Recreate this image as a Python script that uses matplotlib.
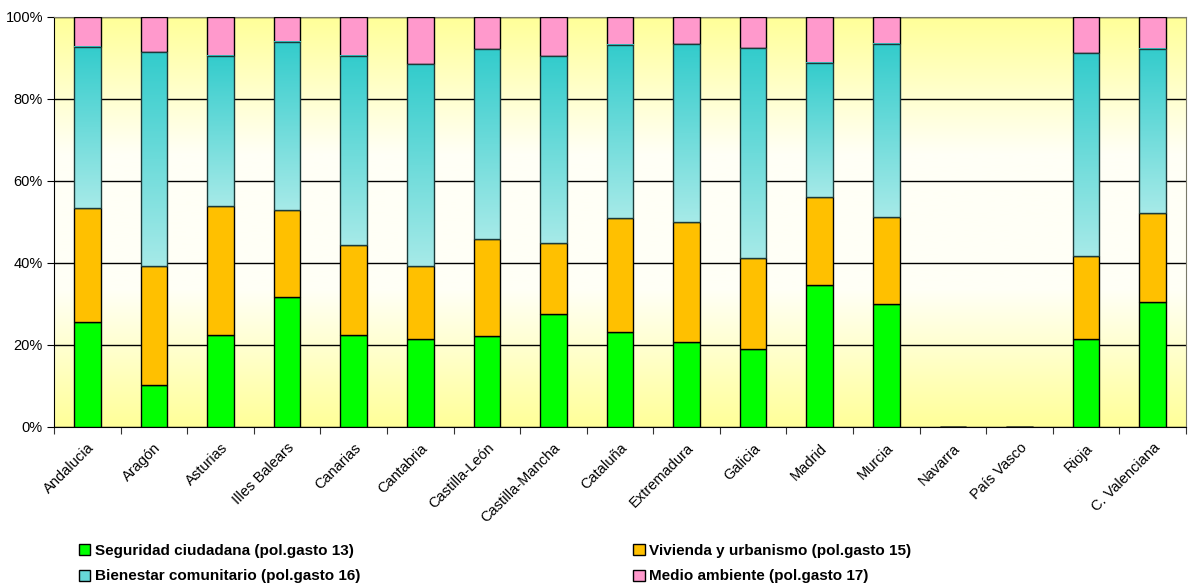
import matplotlib
matplotlib.use('Agg')
import matplotlib.pyplot as plt
import numpy as np
from matplotlib.colors import LinearSegmentedColormap
from matplotlib.ticker import PercentFormatter, FixedLocator
from matplotlib.patches import Patch

plt.rcParams['font.family'] = ['Liberation Sans', 'DejaVu Sans']

regiones = ['Andalucia', 'Aragón', 'Asturias', 'Illes Balears', 'Canarias', 'Cantabria',
            'Castilla-León', 'Castilla-Mancha', 'Cataluña', 'Extremadura', 'Galicia',
            'Madrid', 'Murcia', 'Navarra', 'País Vasco', 'Rioja', 'C. Valenciana']

# % sobre el total de cada comunidad
seguridad = [25.7, 10.2, 22.4, 31.8, 22.5, 21.4, 22.2, 27.5, 23.1, 20.8, 19.1, 34.6, 30.0, 0, 0, 21.4, 30.6]
vivienda = [27.7, 29.1, 31.5, 21.1, 21.9, 17.9, 23.7, 17.4, 27.8, 29.3, 22.2, 21.6, 21.2, 0, 0, 20.3, 21.5]
bienestar = [39.3, 52.1, 36.6, 41.1, 46.1, 49.2, 46.3, 45.6, 42.3, 43.3, 51.2, 32.7, 42.2, 0, 0, 49.4, 40.1]
medio = [7.3, 8.6, 9.5, 6.0, 9.5, 11.5, 7.8, 9.5, 6.8, 6.6, 7.5, 11.1, 6.6, 0, 0, 8.9, 7.8]

series = ['Seguridad ciudadana (pol.gasto 13)', 'Vivienda y urbanismo (pol.gasto 15)',
          'Bienestar comunitario (pol.gasto 16)', 'Medio ambiente (pol.gasto 17)']

fig = plt.figure(figsize=(11.89, 5.85), dpi=100)
ax = fig.add_axes([54 / 1189, 1 - 427 / 585, 1132 / 1189, 410 / 585])

x = np.arange(len(regiones))
w = 0.4

# fondo degradado amarillo-blanco-amarillo
fondo = LinearSegmentedColormap.from_list('fondo', ['#FFFF99', '#FFFFF6', '#FFFFF6', '#FFFF99'])
ax.imshow(np.linspace(0, 1, 256).reshape(-1, 1), cmap=fondo, aspect='auto',
          extent=(-0.5, 16.5, 0, 100), zorder=0)

b1 = ax.bar(x, seguridad, w, color='#00FF00', edgecolor='black', lw=1, zorder=3)
bot = np.array(seguridad)
b2 = ax.bar(x, vivienda, w, bottom=bot, color='#FFC000', edgecolor='black', lw=1, zorder=3)
bot = bot + np.array(vivienda)
b3 = ax.bar(x, bienestar, w, bottom=bot, facecolor='none', edgecolor='#1a3a3a', lw=1, zorder=4)
bot = bot + np.array(bienestar)
b4 = ax.bar(x, medio, w, bottom=bot, color='#FF99CC', edgecolor='black', lw=1, zorder=3)

# degradado del bienestar comunitario
cian = LinearSegmentedColormap.from_list('cian', ['#A6EAE8', '#33CCCC'])
for r in b3:
    if r.get_height() <= 0:
        continue
    ax.imshow(np.linspace(0, 1, 128).reshape(-1, 1), cmap=cian, origin='lower', aspect='auto',
              extent=(r.get_x(), r.get_x() + r.get_width(), r.get_y(), r.get_y() + r.get_height()),
              zorder=3)

ax.set_xlim(-0.5, 16.5)
ax.set_ylim(0, 100)
ax.set_yticks([0, 20, 40, 60, 80, 100])
ax.yaxis.set_major_formatter(PercentFormatter(decimals=0))
ax.grid(axis='y', color='black', lw=1, zorder=1)
ax.set_axisbelow(True)

ax.xaxis.set_major_locator(FixedLocator(np.arange(-0.5, 17, 1)))
ax.xaxis.set_major_formatter(plt.NullFormatter())
ax.xaxis.set_minor_locator(FixedLocator(x))
ax.set_xticklabels(regiones, minor=True, rotation=45, ha='right', rotation_mode='anchor', fontsize=10.5)
ax.tick_params(axis='x', which='minor', length=0, pad=10)
ax.tick_params(axis='x', which='major', length=5, direction='out', color='#333333')
ax.tick_params(axis='y', length=5, labelsize=10.5, pad=3)

for s in ['top', 'right']:
    ax.spines[s].set_color('#7a7a6a')
for s in ['left', 'bottom']:
    ax.spines[s].set_color('black')

handles = [Patch(facecolor='#00FF00', edgecolor='black'),
           Patch(facecolor='#66D8D8', edgecolor='black'),
           Patch(facecolor='#FFC000', edgecolor='black'),
           Patch(facecolor='#FF99CC', edgecolor='black')]
labels = [series[0], series[2], series[1], series[3]]
fig.legend(handles, labels, ncol=2, loc='lower left', bbox_to_anchor=(77 / 1189, 0.0),
           frameon=False, prop={'weight': 'bold', 'size': 11}, handlelength=0.75,
           handleheight=0.75, handletextpad=0.3, columnspacing=17.9, labelspacing=0.75,
           borderpad=0.1, borderaxespad=0.0)

fig.savefig('out.png', dpi=100)
